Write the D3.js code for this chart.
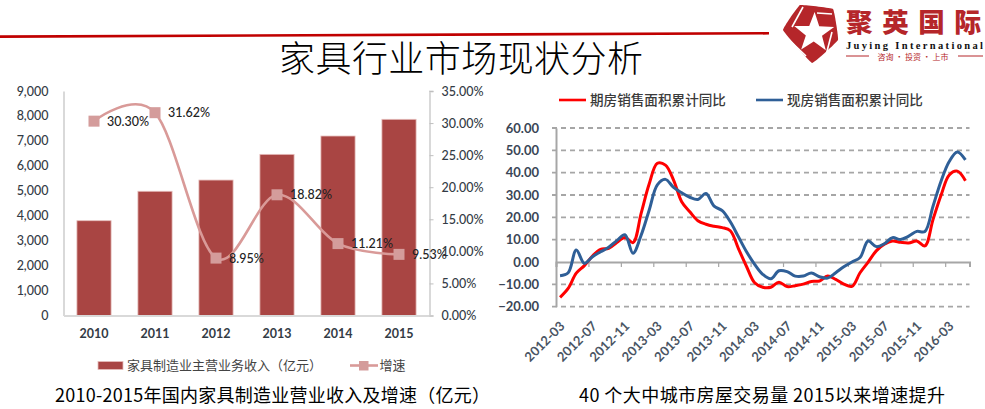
<!DOCTYPE html>
<html><head><meta charset="utf-8">
<script src="https://cdnjs.cloudflare.com/ajax/libs/d3/7.8.5/d3.min.js"></script>
<style>
html,body{margin:0;padding:0;background:#fff}
svg{display:block}
text{font-family:"Noto Sans CJK SC","Noto Sans",sans-serif}
</style></head><body>
<svg id="c" width="985" height="409"></svg>
<script>
const years=["2010","2011","2012","2013","2014","2015"];
const revenue=[3800,4980,5430,6460,7195,7865];
const growth=[30.30,31.62,8.95,18.82,11.21,9.53];
const leftTicks=[0,1000,2000,3000,4000,5000,6000,7000,8000,9000];
const rightTicks=[0,5,10,15,20,25,30,35];
const monthTickLabels=["2012-03","2012-07","2012-11","2013-03","2013-07","2013-11","2014-03","2014-07","2014-11","2015-03","2015-07","2015-11","2016-03"];
const futures=[-15.8,-11.8,-5,-1.6,2.7,5.7,6.1,8.7,11,8.7,21.8,35,44.2,43.4,36.7,27,22.5,18.5,16.9,16,15.4,14,6,-2,-9.3,-11.3,-11.3,-9,-11,-10.6,-9.9,-8.7,-8.5,-6.3,-7.8,-9.9,-10.9,-4.8,0,5,8,9.4,8.8,8.5,9.4,7.2,19,30,39,40.7,36.4];
const spot=[-6.1,-4.8,5.4,-0.6,2.4,4.6,6.6,9.6,12.2,3.9,12,23.3,34.5,37,33.4,31,29,28,30.7,25,23,18,11.3,4.6,-1,-5.5,-7.5,-3.9,-4.3,-6.3,-6.3,-4.9,-6.6,-7.2,-4.8,-2.1,0,2,9.4,6.9,8.2,10.9,10.1,11.6,13.7,13.7,25,36.3,45,49.3,45.7];
const rightYTicks=[-20,-10,0,10,20,30,40,50,60];

const svg=d3.select("#c");
const ink="#333b45";

// header
svg.append("line").attr("x1",0).attr("x2",769).attr("y1",36.6).attr("y2",33.3).attr("stroke","#c00000").attr("stroke-width",2.6);
svg.append("text").text("家具行业市场现状分析").attr("x",279).attr("y",72).attr("textLength",364)
  .attr("font-size",36).attr("font-weight",300).attr("fill","#000");

// logo
const red="#b5262a";
const logo=svg.append("g");
logo.append("path").attr("d",d3.line().curve(d3.curveCardinalClosed.tension(0.8))([[800,5],[833,9],[838,40],[812,63],[783,30]])).attr("fill",red);
const star=d3.range(10).map(i=>{const a=-Math.PI/2+i*Math.PI/5+0.03;const r=i%2?8.5:21;return [814+r*Math.cos(a),33+r*Math.sin(a)]});
logo.append("path").attr("d","M"+star.join("L")+"Z").attr("fill","#fff");
[[[792,27],[803,7]],[[817,13],[832,14]],[[832,32],[825,59]],[[806,56],[785,36]]].forEach(([a,b])=>{
  logo.append("line").attr("x1",a[0]).attr("y1",a[1]).attr("x2",b[0]).attr("y2",b[1]).attr("stroke","#fff").attr("stroke-width",1.6);
});
svg.append("text").text("聚英国际").attr("x",846).attr("y",32).attr("font-size",26.5).attr("font-weight",900).attr("fill",red)
  .attr("textLength",135).attr("lengthAdjust","spacing");
svg.append("text").text("Juying International").attr("x",846).attr("y",49).attr("font-size",10.5).attr("font-weight",700)
  .style("font-family","'Liberation Serif',serif").attr("fill","#111").attr("textLength",137).attr("lengthAdjust","spacing");
svg.append("text").text("咨询 · 投资 · 上市").attr("x",913).attr("y",60).attr("text-anchor","middle").attr("font-size",8).attr("fill",red);
svg.append("line").attr("x1",846).attr("x2",869).attr("y1",56).attr("y2",56).attr("stroke",red);
svg.append("line").attr("x1",958).attr("x2",983).attr("y1",56).attr("y2",56).attr("stroke",red);

// left chart
const lx=d3.scaleBand().domain(years).range([63.5,429.5]).paddingInner(0.44).paddingOuter(0.22);
const ly=d3.scaleLinear().domain([0,9000]).range([315.5,91]);
const ry=d3.scaleLinear().domain([0,35]).range([315.5,91]);
const cx=d=>lx(d)+lx.bandwidth()/2;
const barCol="#a94543", barEdge="#e6bdbb", lineCol="#d99a98", markCol="#d49c9b";

svg.append("g").selectAll("rect").data(years).join("rect")
  .attr("x",d=>lx(d)).attr("width",lx.bandwidth())
  .attr("y",(d,i)=>ly(revenue[i])).attr("height",(d,i)=>ly(0)-ly(revenue[i]))
  .attr("fill",barCol).attr("stroke",barEdge).attr("stroke-width",0.8);

const ax=svg.append("g").attr("transform","translate(63.5,0)")
  .call(d3.axisLeft(ly).tickValues(leftTicks).tickFormat(d3.format(",")).tickSize(0).tickPadding(15));
const bx=svg.append("g").attr("transform","translate(0,315.5)")
  .call(d3.axisBottom(lx).tickSize(0).tickPadding(14));
const rx=svg.append("g").attr("transform","translate(429.5,0)")
  .call(d3.axisRight(ry).tickValues(rightTicks).tickFormat(d=>d.toFixed(2)+"%").tickSize(4).tickPadding(8));
[ax,bx,rx].forEach(g=>{
  g.select(".domain").attr("stroke","#d9d9d9").attr("stroke-width",2);
  g.selectAll("line").attr("stroke","#bfbfbf");
  g.selectAll("text").attr("font-size",12.5).attr("fill",ink).style("font-family","Lato,sans-serif").style("font-weight",500);
});
bx.selectAll("text").style("font-weight",700);

svg.append("path").attr("d",d3.line().curve(d3.curveCardinal.tension(0)).x(d=>cx(d)).y((d,i)=>ry(growth[i]))(years))
  .attr("fill","none").attr("stroke",lineCol).attr("stroke-width",2.6);
svg.append("g").selectAll("rect").data(years).join("rect")
  .attr("x",d=>cx(d)-5.5).attr("width",11).attr("height",11)
  .attr("y",(d,i)=>ry(growth[i])-5.5).attr("fill",markCol);
svg.append("g").selectAll("text").data(years).join("text")
  .text((d,i)=>growth[i].toFixed(2)+"%")
  .attr("x",d=>cx(d)+13).attr("y",(d,i)=>ry(growth[i])+4.5)
  .attr("font-size",12.5).attr("fill","#222").style("font-family","Lato,sans-serif").style("font-weight",500);

// left legend
svg.append("rect").attr("x",98).attr("y",361.5).attr("width",25).attr("height",8).attr("fill",barCol).attr("stroke",barEdge).attr("stroke-width",.8);
svg.append("text").text("家具制造业主营业务收入（亿元）").attr("x",127).attr("y",370).attr("font-size",13).attr("textLength",195).attr("fill","#444");
svg.append("line").attr("x1",350).attr("x2",378).attr("y1",365.5).attr("y2",365.5).attr("stroke",lineCol).attr("stroke-width",2.6);
svg.append("rect").attr("x",359).attr("y",361).attr("width",9.5).attr("height",9.5).attr("fill",markCol);
svg.append("text").text("增速").attr("x",379.5).attr("y",370).attr("font-size",13).attr("fill","#444");

// right chart
const mx=d3.scaleLinear().domain([0,51]).range([556,969.5]);
const my=d3.scaleLinear().domain([-20,60]).range([306.7,128]);
const gy=svg.append("g").attr("transform","translate(556,0)")
  .call(d3.axisLeft(my).tickValues(rightYTicks).tickFormat(d3.format(".2f")).tickSize(0).tickPadding(17));
gy.select(".domain").attr("stroke","#a6a6a6").attr("stroke-width",2);
gy.selectAll("text").attr("font-size",13).attr("fill","#3a4656").style("font-family","Lato,sans-serif").style("font-weight",700);
svg.append("g").selectAll("line").data(rightYTicks.filter(d=>d!==0)).join("line")
  .attr("x1",552).attr("x2",969.5).attr("y1",d=>my(d)).attr("y2",d=>my(d))
  .attr("stroke","#a6a6a6").attr("stroke-width",1.8).attr("stroke-dasharray","5 4");
const gx=svg.append("g").attr("transform",`translate(0,${my(0)})`)
  .call(d3.axisBottom(mx).tickValues(monthTickLabels.map((d,i)=>i*4)).tickFormat((d,i)=>monthTickLabels[i]).tickSize(5));
gx.select(".domain").attr("stroke","#a6a6a6").attr("stroke-width",2);
gx.selectAll("line").attr("stroke","#a6a6a6").attr("stroke-width",1.2);
gx.selectAll("text").attr("font-size",13).attr("fill","#4a5564").style("font-family","Lato,sans-serif").style("font-weight",700)
  .attr("text-anchor","end").attr("dy",0).attr("y",0)
  .attr("transform","translate(9,65) rotate(-45)");

const ln=d3.line().curve(d3.curveCatmullRom.alpha(0.5)).x((d,i)=>mx(i+0.5)).y(d=>my(d));
svg.append("path").attr("d",ln(futures)).attr("fill","none").attr("stroke","#ff0000").attr("stroke-width",3);
svg.append("path").attr("d",ln(spot)).attr("fill","none").attr("stroke","#2f5f97").attr("stroke-width",3);

// right legend
[["期房销售面积累计同比","#ff0000",559],["现房销售面积累计同比","#2f5f97",756]].forEach(([t,c,x])=>{
  svg.append("line").attr("x1",x).attr("x2",x+27).attr("y1",100).attr("y2",100).attr("stroke",c).attr("stroke-width",2.6);
  svg.append("text").text(t).attr("x",x+31).attr("y",105).attr("font-size",13.6).attr("font-weight",500).attr("fill","#3a3a3a");
});

// captions
svg.append("text").text("2010-2015年国内家具制造业营业收入及增速（亿元）").attr("x",55).attr("y",402).attr("font-size",18).attr("fill","#000").attr("textLength",435);
svg.append("text").text("40 个大中城市房屋交易量 2015以来增速提升").attr("x",579).attr("y",402).attr("font-size",18).attr("fill","#000").attr("textLength",366);
</script>
</body></html>
